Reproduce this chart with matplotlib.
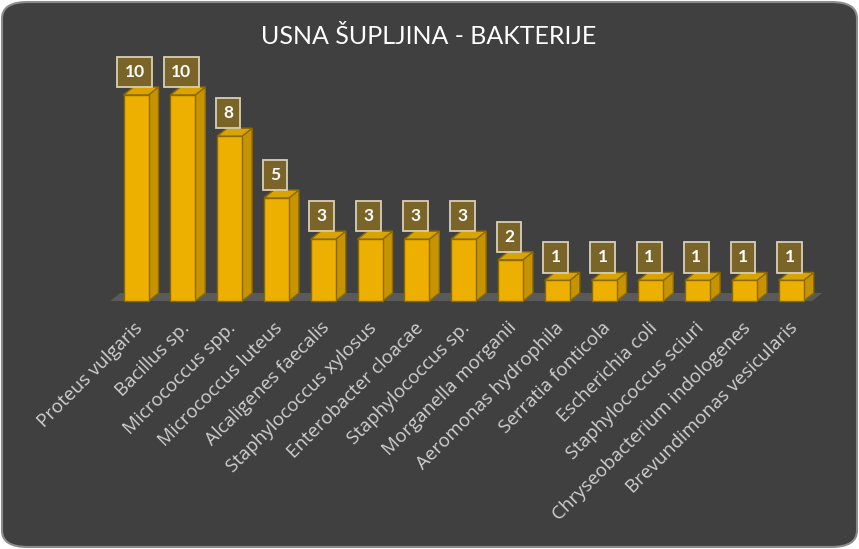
import matplotlib
matplotlib.use("Agg")
import matplotlib.pyplot as plt
from matplotlib.patches import Polygon, FancyBboxPatch

categories = ["Proteus vulgaris", "Bacillus sp.", "Micrococcus spp.", "Micrococcus luteus",
              "Alcaligenes faecalis", "Staphylococcus xylosus", "Enterobacter cloacae",
              "Staphylococcus sp.", "Morganella morganii", "Aeromonas hydrophila",
              "Serratia fonticola", "Escherichia coli", "Staphylococcus sciuri",
              "Chryseobacterium indologenes", "Brevundimonas vesicularis"]
values = [10, 10, 8, 5, 3, 3, 3, 3, 2, 1, 1, 1, 1, 1, 1]
title = "USNA ŠUPLJINA - BAKTERIJE"

W, H = 859, 549
fig = plt.figure(figsize=(W / 100, H / 100), dpi=100)
fig.patch.set_facecolor("white")

bg = FancyBboxPatch((2 / W, 2 / H), 1 - 4 / W, 1 - 4 / H,
                    boxstyle="round,pad=0,rounding_size=0.03",
                    transform=fig.transFigure, facecolor="#404040",
                    edgecolor="#8c8c8c", linewidth=1.5, zorder=-10)
fig.patches.append(bg)

# axes placement in pixels
px_per_x = 46.8
px_per_y = 20.6
c0 = 136
base = 301
left_px, right_px = 100, 830
top_px, bot_px = 40, 312
ax = fig.add_axes([left_px / W, 1 - bot_px / H, (right_px - left_px) / W, (bot_px - top_px) / H])
ax.set_zorder(1)
ax.set_xlim((left_px - c0) / px_per_x, (right_px - c0) / px_per_x)
ax.set_ylim(-(bot_px - base) / px_per_y, (base - top_px) / px_per_y)
ax.axis("off")
ax.patch.set_alpha(0)

bw = 25 / px_per_x
dx = 10 / px_per_x
dy = 8 / px_per_y
n = len(categories)
xs = list(range(n))

# floor
floor = Polygon([(-0.55, 0), (n - 1 + 0.45, 0), (n - 1 + 0.45 + dx, dy), (-0.55 + dx, dy)],
                closed=True, facecolor="#5a5a5a", edgecolor="none", zorder=1)
ax.add_patch(floor)

front_c = "#EEB000"
side_c = "#C89300"
top_c = "#D9A300"
edge_c = "#8A6A00"

ax.bar(xs, values, width=bw, color=front_c, edgecolor=edge_c, linewidth=1.0, zorder=3)
for x, v in zip(xs, values):
    l, r = x - bw / 2, x + bw / 2
    side = Polygon([(r, 0), (r + dx, dy), (r + dx, v + dy), (r, v)], closed=True,
                   facecolor=side_c, edgecolor=edge_c, linewidth=1.0, zorder=2.5)
    top = Polygon([(l, v), (r, v), (r + dx, v + dy), (l + dx, v + dy)], closed=True,
                  facecolor=top_c, edgecolor=edge_c, linewidth=1.0, zorder=2.6)
    ax.add_patch(side)
    ax.add_patch(top)
    ax.text(x - 0.03, v + dy + 15 / px_per_y, str(v), ha="center", va="center",
            color="white", fontsize=12.5, fontweight="bold", family="Lato", zorder=5,
            bbox=dict(boxstyle="square,pad=0.42", facecolor="#7A6428",
                      edgecolor="#D8D0B8", linewidth=1.3))
    ax.text(x + 0.08, -24 / px_per_y, categories[x], rotation=45, rotation_mode="anchor",
            ha="right", va="center", color="#D0D0D0", fontsize=13.5, family="Open Sans",
            clip_on=False)

fig.text(429 / W, 1 - 37 / H, title, ha="center", va="center", color="white",
         fontsize=18, family="Lato")

fig.savefig("out.png", dpi=100, facecolor=fig.get_facecolor())
